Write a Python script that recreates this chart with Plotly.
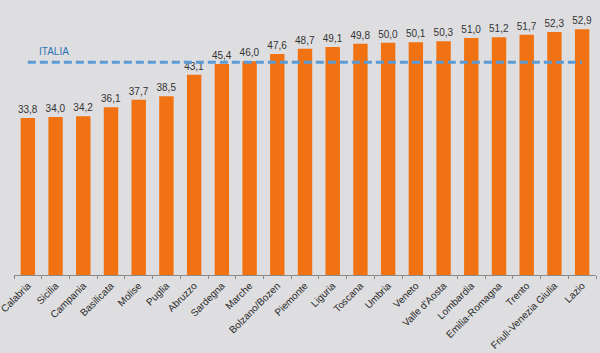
import plotly.graph_objects as go

regions = ["Calabria", "Sicilia", "Campania", "Basilicata", "Molise", "Puglia", "Abruzzo",
           "Sardegna", "Marche", "Bolzano/Bozen", "Piemonte", "Liguria", "Toscana", "Umbria",
           "Veneto", "Valle d'Aosta", "Lombardia", "Emilia-Romagna", "Trento",
           "Friuli-Venezia Giulia", "Lazio"]
values = [33.8, 34.0, 34.2, 36.1, 37.7, 38.5, 43.1, 45.4, 46.0, 47.6, 48.7, 49.1, 49.8,
          50.0, 50.1, 50.3, 51.0, 51.2, 51.7, 52.3, 52.9]
italia = 45.8
labels = [f"{v:.1f}".replace(".", ",") for v in values]

fig = go.Figure()
fig.add_trace(go.Bar(
    x=regions, y=values, text=labels, textposition="outside", cliponaxis=False,
    constraintext="none",
    marker=dict(color="#F07212", line=dict(width=0)),
    textfont=dict(family="Liberation Sans, Arial", size=10, color="#333333"),
    hoverinfo="skip"))
fig.add_trace(go.Scatter(
    x=regions, y=[italia] * len(regions), mode="lines",
    line=dict(color="#5B9BD5", width=3, dash="8px,4px"), hoverinfo="skip"))
fig.add_annotation(x=0, y=italia, xref="x", yref="y", text="ITALIA", showarrow=False,
                   xanchor="left", yanchor="bottom", xshift=9, yshift=3,
                   font=dict(family="Liberation Sans, Arial", size=10, color="#2E75B6"))

fig.update_layout(
    width=600, height=353, margin=dict(l=14, r=4, t=0, b=78),
    paper_bgcolor="#DEDEE0", plot_bgcolor="#DEDEE0", showlegend=False,
    bargap=0.48,
    xaxis=dict(type="category", tickangle=-45, showgrid=False, showline=True,
               automargin=False,
               linecolor="#8a8a8a", linewidth=1, ticks="outside", tickson="boundaries",
               ticklen=3, tickcolor="#8a8a8a",
               tickfont=dict(family="Liberation Sans, Arial", size=10, color="#2a2a2a")),
    yaxis=dict(range=[0, 59.2], visible=False, showgrid=False, zeroline=False,
               automargin=False),
)
fig.write_html("out.html")
